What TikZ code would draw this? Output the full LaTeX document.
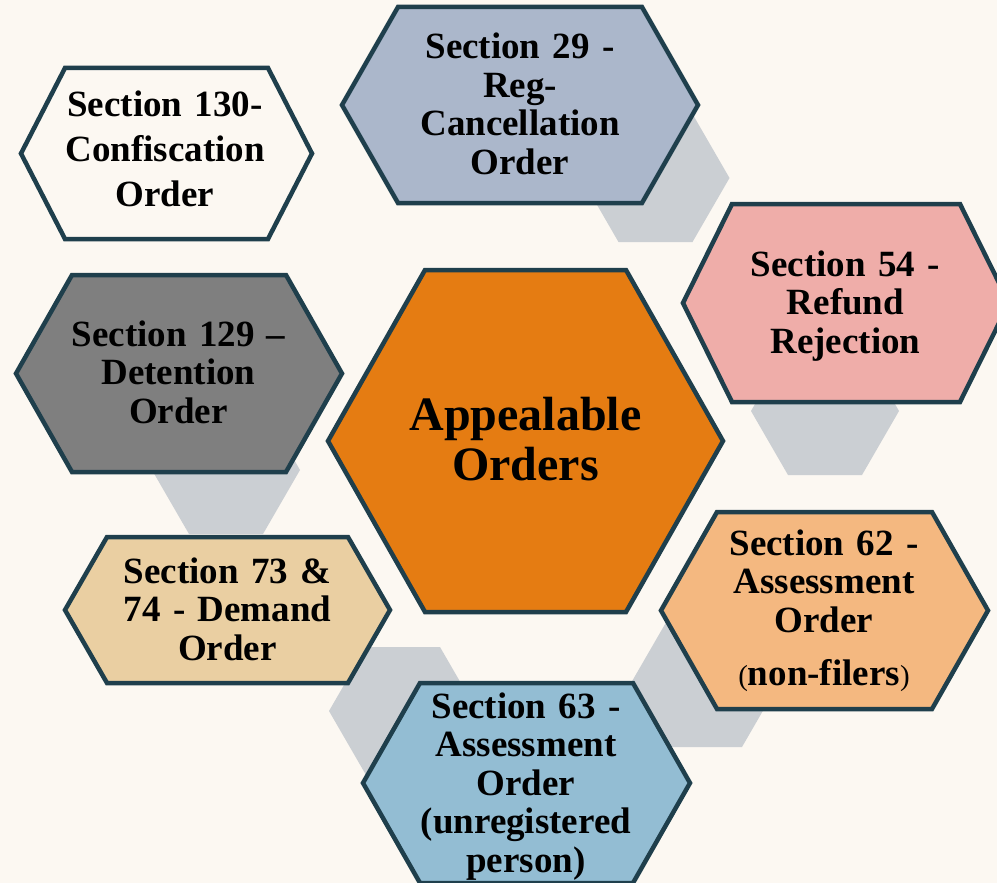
\documentclass[tikz,border=0pt]{standalone}
\usepackage{fontspec}
\setmainfont{Liberation Serif}
\definecolor{bgc}{HTML}{FCF8F2}
\definecolor{edgec}{HTML}{1F3F4C}
\definecolor{shadc}{HTML}{CBCFD3}
\definecolor{c130}{HTML}{FCF8F2}
\definecolor{c29}{HTML}{ABB7CB}
\definecolor{c54}{HTML}{EFADA9}
\definecolor{cmid}{HTML}{E57C12}
\definecolor{c129}{HTML}{7F7F7F}
\definecolor{c7374}{HTML}{EACFA2}
\definecolor{c62}{HTML}{F4B880}
\definecolor{c63}{HTML}{93BDD3}
% cx cy halfwidth halfheight inset style
\newcommand\myhex[6]{%
  \path[#6] (#1-#3,#2) -- (#1-#3+#5,#2-#4) -- (#1+#3-#5,#2-#4) -- (#1+#3,#2)
    -- (#1+#3-#5,#2+#4) -- (#1-#3+#5,#2+#4) -- cycle;}
\tikzset{
  hexbox/.style={draw=edgec, line width=4.5pt, fill=#1},
  shadowhex/.style={fill=shadc},
  lbl/.style={text width=320pt, align=center, anchor=base, inner sep=0pt,
    font=\bfseries\fontsize{37}{38.5}\selectfont, text=black},
}
\begin{document}
\begin{tikzpicture}[x=1pt,y=-1pt]
\useasboundingbox (0,0) rectangle (997,883);
\clip (0,0) rectangle (997,883);
\fill[bgc] (0,0) rectangle (997,883);
% shadow hexagons
\myhex{655.5}{178}{74}{64}{37}{shadowhex}
\myhex{825}{411}{74}{64}{37}{shadowhex}
\myhex{226}{470}{74}{64}{37}{shadowhex}
\myhex{403}{711}{74}{64}{37}{shadowhex}
\myhex{705}{683}{74}{64}{37}{shadowhex}
% main hexagons
\myhex{166.5}{153.5}{145.5}{85.5}{44}{hexbox=c130}
\myhex{520}{105}{178}{98}{56}{hexbox=c29}
\myhex{846}{303}{163}{99}{49}{hexbox=c54}
\myhex{525.5}{441}{197.5}{171}{97}{hexbox=cmid}
\myhex{179}{373.5}{163}{98.5}{56}{hexbox=c129}
\myhex{227.5}{610}{162.5}{73}{42}{hexbox=c7374}
\myhex{824.5}{610.5}{163.5}{98.5}{56}{hexbox=c62}
\myhex{526.5}{783}{163.5}{100}{57}{hexbox=c63}
% labels
\node[lbl, font=\bfseries\fontsize{37}{45}\selectfont] (t130) at (165,117) {Section 130-\\Confiscation\\Order};
\node[lbl] (t29) at (520,59) {Section 29 -\\Reg-\\Cancellation\\Order};
\node[lbl] (t54) at (845.5,276) {Section 54 -\\Refund\\Rejection};
\node[lbl, font=\bfseries\fontsize{48}{50}\selectfont] (tmid) at (525.5,430) {Appealable\\Orders};
\node[lbl] (t129) at (178.5,346) {Section 129 –\\Detention\\Order};
\node[lbl] (t7374) at (227.5,583) {Section 73 \&\\74 - Demand\\Order};
\node[lbl] (t62) at (824,555) {Section 62 -\\Assessment\\Order\\[15pt]{\mdseries\fontsize{29}{29}\selectfont(}non-filers{\mdseries\fontsize{29}{29}\selectfont)}};
\node[lbl] (t63) at (526,718) {Section 63 -\\Assessment\\Order\\(unregistered\\person)};
\end{tikzpicture}
\end{document}
